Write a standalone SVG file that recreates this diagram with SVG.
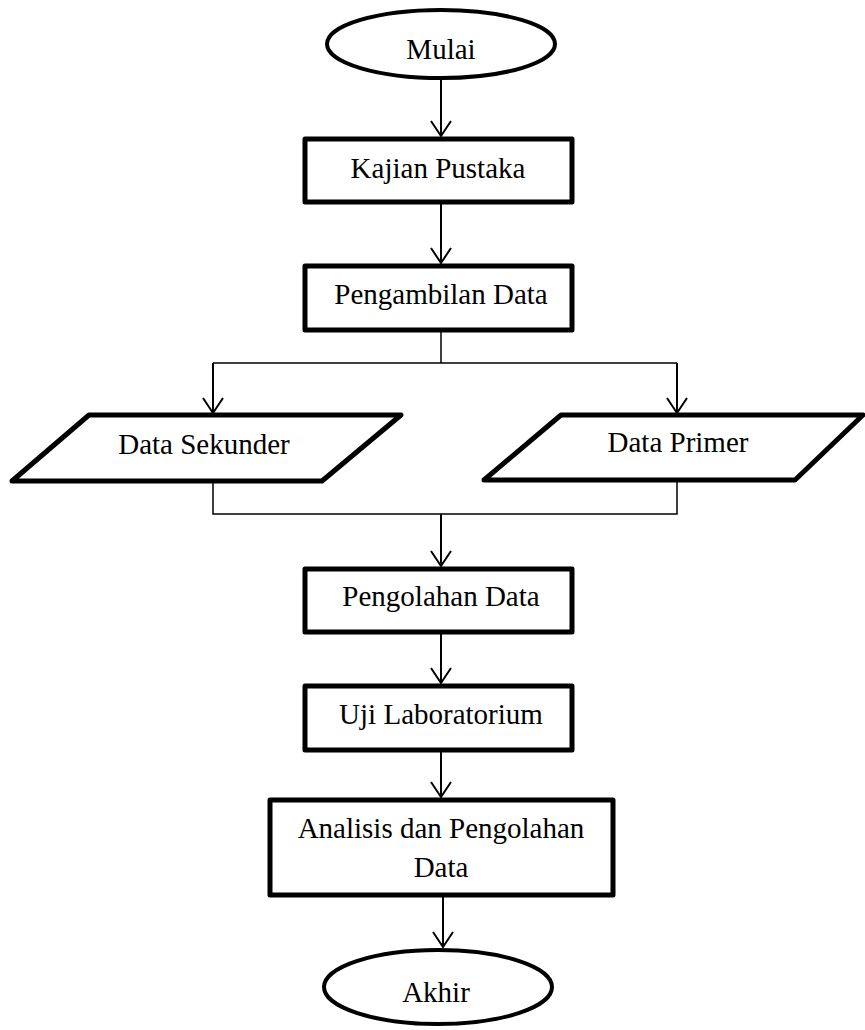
<svg xmlns="http://www.w3.org/2000/svg" width="865" height="1030" viewBox="0 0 865 1030">
<style>
.shape{fill:#fff;stroke:#000;stroke-width:5;stroke-linejoin:round}
.term{fill:#fff;stroke:#000;stroke-width:4}
.lbl{font-size:29px;fill:#000;text-anchor:middle}
.con{fill:none;stroke:#000;stroke-width:2}
.thin{fill:none;stroke:#000;stroke-width:1.5}
</style>
<defs>
<marker id="arr" markerUnits="userSpaceOnUse" viewBox="-2 -12 19 24" markerWidth="19" markerHeight="24" refX="15" refY="0" orient="auto">
<path d="M0,-10 L15,0 L0,10" fill="none" stroke="#000" stroke-width="2"/>
</marker>
</defs>
<g id="connectors">
<line class="con" x1="441" y1="80" x2="441" y2="136" marker-end="url(#arr)"/>
<line class="con" x1="441" y1="204" x2="441" y2="263" marker-end="url(#arr)"/>
<path class="thin" d="M441,332 V363 M213,363 H677"/>
<line class="con" x1="213" y1="363" x2="213" y2="413" marker-end="url(#arr)"/>
<line class="con" x1="677" y1="363" x2="677" y2="413" marker-end="url(#arr)"/>
<path class="thin" d="M213,482 V514 H677 V480"/>
<line class="con" x1="441" y1="514" x2="441" y2="566" marker-end="url(#arr)"/>
<line class="con" x1="441" y1="634" x2="441" y2="683" marker-end="url(#arr)"/>
<line class="con" x1="441" y1="752" x2="441" y2="797" marker-end="url(#arr)"/>
<line class="con" x1="443" y1="897" x2="443" y2="947" marker-end="url(#arr)"/>
</g>
<g font-family="Liberation Serif, Times New Roman, DejaVu Serif, serif">
<g id="mulai">
<ellipse class="term" cx="441" cy="44" rx="114" ry="34"/>
<text class="lbl" x="441" y="59">Mulai</text>
</g>
<g id="kajian">
<rect class="shape" x="305" y="139" width="267" height="63"/>
<text class="lbl" x="438" y="178">Kajian Pustaka</text>
</g>
<g id="pengambilan">
<rect class="shape" x="305" y="266" width="267" height="64"/>
<text class="lbl" x="441" y="304">Pengambilan Data</text>
</g>
<g id="sekunder">
<polygon class="shape" points="89,415 401,415 322,481 12,481"/>
<text class="lbl" x="204" y="454">Data Sekunder</text>
</g>
<g id="primer">
<polygon class="shape" points="561,415 863,415 795,480 484,480"/>
<text class="lbl" x="678" y="452">Data Primer</text>
</g>
<g id="pengolahan">
<rect class="shape" x="305" y="569" width="267" height="63"/>
<text class="lbl" x="441" y="606">Pengolahan Data</text>
</g>
<g id="uji">
<rect class="shape" x="305" y="686" width="267" height="64"/>
<text class="lbl" x="441" y="724">Uji Laboratorium</text>
</g>
<g id="analisis">
<rect class="shape" x="270" y="800" width="343" height="95"/>
<text class="lbl" x="441" y="838">Analisis dan Pengolahan</text>
<text class="lbl" x="441" y="877">Data</text>
</g>
<g id="akhir">
<ellipse class="term" cx="438" cy="987" rx="114" ry="37"/>
<text class="lbl" x="436" y="1002">Akhir</text>
</g>
</g>
</svg>
